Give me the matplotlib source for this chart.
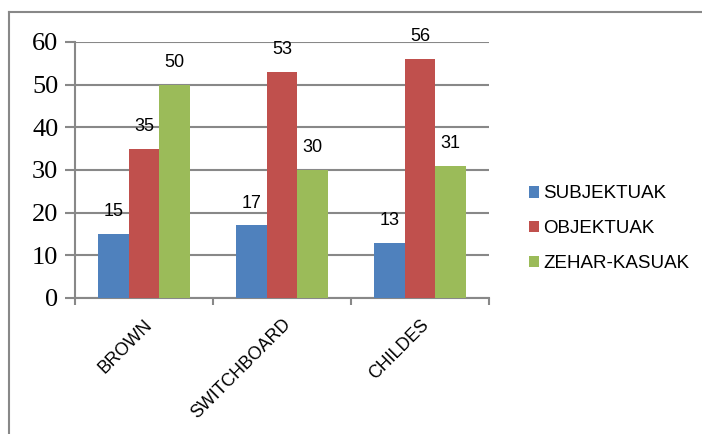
import numpy as np
import matplotlib
matplotlib.use("Agg")
import matplotlib.pyplot as plt
from matplotlib.lines import Line2D

categories = ["BROWN", "SWITCHBOARD", "CHILDES"]
series_names = ["SUBJEKTUAK", "OBJEKTUAK", "ZEHAR-KASUAK"]
subjektuak = [15, 17, 13]
objektuak = [35, 53, 56]
zehar_kasuak = [50, 30, 31]
y_ticks = [0, 10, 20, 30, 40, 50, 60]

colors = ["#4F81BD", "#C0504D", "#9BBB59"]
grid_col = "#888888"

fig = plt.figure(figsize=(7.02, 4.34), dpi=100)
ax = fig.add_axes([75 / 702, 1 - 298 / 434, (489 - 75) / 702, (298 - 42) / 434])

x = np.arange(len(categories))
width = 0.22
for i, (vals, name) in enumerate(zip([subjektuak, objektuak, zehar_kasuak], series_names)):
    bars = ax.bar(x + (i - 1) * width, vals, width, color=colors[i], label=name, zorder=3)
    for b, v in zip(bars, vals):
        ax.annotate(str(v), (b.get_x() + b.get_width() / 2, v), xytext=(0, 10),
                    textcoords="offset points", ha="center", va="bottom",
                    fontsize=13, family="Liberation Sans")

ax.set_xlim(-0.5, 2.5)
ax.set_ylim(0, 60)
ax.set_yticks(y_ticks)
ax.set_yticklabels([str(t) for t in y_ticks], family="Liberation Serif", fontsize=19)
ax.yaxis.grid(True, color=grid_col, linewidth=1.5, zorder=0)

ax.set_xticks(x)
ax.set_xticklabels(categories, rotation=45, ha="right", va="top", rotation_mode="anchor",
                   family="Liberation Sans", fontsize=12.8)
ax.tick_params(axis="x", length=0, pad=13)
ax.set_xticks(np.arange(-0.5, 3, 1), minor=True)
ax.tick_params(axis="x", which="minor", length=5, color=grid_col, width=1.5)
ax.tick_params(axis="y", length=7, color=grid_col, width=1.5, pad=5)

for s in ["top", "right"]:
    ax.spines[s].set_visible(False)
for s in ["left", "bottom"]:
    ax.spines[s].set_color(grid_col)
    ax.spines[s].set_linewidth(1.5)

leg = fig.legend(loc="upper left", bbox_to_anchor=(521 / 702, 1 - 178 / 434), frameon=False,
                 prop={"family": "Liberation Sans", "size": 13.5}, handlelength=0.55, handleheight=0.55,
                 handletextpad=0.25, labelspacing=0.95, borderaxespad=0)

# chart border
fig.add_artist(Line2D([9 / 702, 9 / 702], [0, 1 - 12 / 434], transform=fig.transFigure,
                      color=grid_col, linewidth=1.5))
fig.add_artist(Line2D([9 / 702, 1], [1 - 12 / 434, 1 - 12 / 434], transform=fig.transFigure,
                      color=grid_col, linewidth=1.5))

fig.savefig("out.png", dpi=100)
